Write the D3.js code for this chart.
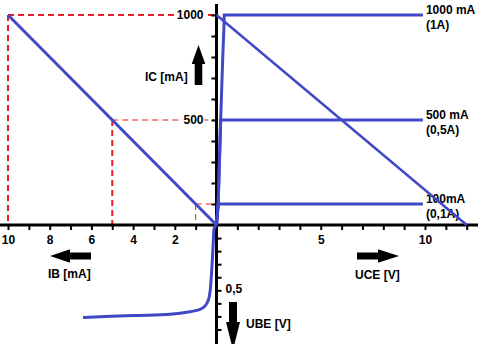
<!DOCTYPE html>
<html>
<head>
<meta charset="utf-8">
<script src="https://cdn.jsdelivr.net/npm/d3@7"></script>
<style>
  body { margin: 0; background: #fff; }
  text { font-family: "Liberation Sans", Arial, sans-serif; font-weight: bold; fill: #000; }
</style>
</head>
<body>
<svg id="chart" width="478" height="344"></svg>
<script>
// Data
var ibTicks = [1, 2, 3, 4, 5, 6, 7, 8, 9, 10];
var ibTickLabels = [2, 4, 6, 8, 10];
var uceTicks = [1, 2, 3, 4, 5, 6, 7, 8, 9, 10, 11, 12];
var uceTickLabels = [5, 10];
var icTicks = [100, 200, 300, 400, 500, 600, 700, 800, 900, 1000];
var icTickLabels = [500, 1000];
var ubeTicks = [0.1, 0.2, 0.3, 0.4, 0.5, 0.6, 0.7, 0.8];
var ubeTickLabels = [0.5];

// current gain line IC = f(IB)
var gainLine = [[10, 1000], [0, 0]];
// guide points (IB, IC)
var guideIB = [10, 5, 1];
var guideIC = [1000, 500, 100];
// output curves (UCE, IC)
var curveLabels = ["1000 mA", "500 mA", "100mA"];
var curveSubLabels = ["(1A)", "(0,5A)", "(0,1A)"];
var curve1000 = [[0, 0], [0.08, 100], [0.2, 500], [0.3, 800], [0.36, 950], [0.37, 1000], [9.9, 1000]];
var curve500 = [[0, 0], [0.08, 100], [0.2, 500], [9.9, 500]];
var curve100 = [[0, 0], [0.08, 100], [9.9, 100]];
// load line
var loadLine = [[0, 1000], [12, 0]];
// input curve (IB, UBE)
var inputCurve = [[6.4, 0.708], [4.0, 0.693], [2.23, 0.684], [1.27, 0.664], [0.79, 0.646], [0.55, 0.62],
                  [0.39, 0.574], [0.31, 0.511], [0.26, 0.421], [0.2, 0.268], [0.15, 0.115], [0.105, 0.023], [0, 0]];

var svg = d3.select("#chart");
var blue = "#4048c8", red = "#ee1c24";

// Scales, one per half-axis
var xIB = d3.scaleLinear().domain([0, 10]).range([216.5, 8]);
var xUCE = d3.scaleLinear().domain([0, 10]).range([216.5, 425]);
var yIC = d3.scaleLinear().domain([0, 1000]).range([225, 15]);
var yUBE = d3.scaleLinear().domain([0, 0.5]).range([225, 290.3]);

svg.append("rect").attr("width", 478).attr("height", 344).attr("fill", "#fff");

// red dashed guides
guideIB.forEach(function (ib, i) {
    var w = i < 2 ? 2 : 1;
    svg.append("line")
        .attr("x1", xIB(ib)).attr("x2", xIB(ib))
        .attr("y1", yIC(guideIC[i])).attr("y2", yIC(0))
        .attr("stroke", red).attr("stroke-width", w).attr("stroke-dasharray", "6,4");
    svg.append("line")
        .attr("x1", xIB(ib)).attr("x2", xIB(0))
        .attr("y1", yIC(guideIC[i])).attr("y2", yIC(guideIC[i]))
        .attr("stroke", red).attr("stroke-width", i == 0 ? 2 : 1.2).attr("stroke-dasharray", "6,4");
});

// axis lines
svg.append("line").attr("x1", 0).attr("x2", 478).attr("y1", 225).attr("y2", 225)
    .attr("stroke", "#000").attr("stroke-width", 3);
svg.append("line").attr("x1", 216.5).attr("x2", 216.5).attr("y1", 4).attr("y2", 344)
    .attr("stroke", "#000").attr("stroke-width", 3);

function styleAxis(g) {
    g.select(".domain").remove();
    g.selectAll(".tick line").attr("stroke", "#000").attr("stroke-width", 2);
    g.selectAll(".tick text").style("font-size", "12px").style("font-family", "Liberation Sans, Arial, sans-serif")
        .style("font-weight", "bold").attr("fill", "#000");
}

svg.append("g").attr("transform", "translate(0,225)")
    .call(d3.axisBottom(xIB).tickValues(ibTicks).tickSize(5).tickPadding(5)
        .tickFormat(function (d) { return ibTickLabels.indexOf(d) >= 0 ? d : ""; }))
    .call(styleAxis);

svg.append("g").attr("transform", "translate(0,225)")
    .call(d3.axisBottom(xUCE.copy().domain([0, 10])).tickValues(uceTicks).tickSize(5).tickPadding(5)
        .tickFormat(function (d) { return uceTickLabels.indexOf(d) >= 0 ? d : ""; }))
    .call(styleAxis);

svg.append("g").attr("transform", "translate(216.5,0)")
    .call(d3.axisLeft(yIC).tickValues(icTicks).tickSize(5).tickPadding(8)
        .tickFormat(function (d) { return icTickLabels.indexOf(d) >= 0 ? d : ""; }))
    .call(styleAxis)
    .selectAll(".tick text")
    .attr("stroke", "#fff").attr("stroke-width", 3).attr("paint-order", "stroke");

var ubeAxis = svg.append("g").attr("transform", "translate(216.5,0)")
    .call(d3.axisRight(yUBE).tickValues(ubeTicks).tickSize(5).tickPadding(4)
        .tickFormat(function (d) { return ubeTickLabels.indexOf(d) >= 0 ? String(d).replace(".", ",") : ""; }))
    .call(styleAxis);
ubeAxis.selectAll(".tick text").attr("dy", "0.2em");

// curves
var lineIBIC = d3.line().x(function (d) { return xIB(d[0]); }).y(function (d) { return yIC(d[1]); });
var lineUCEIC = d3.line().x(function (d) { return xUCE(d[0]); }).y(function (d) { return yIC(d[1]); });
var lineIBUBE = d3.line().x(function (d) { return xIB(d[0]); }).y(function (d) { return yUBE(d[1]); })
    .curve(d3.curveCatmullRom);

svg.append("path").attr("d", lineIBIC(gainLine))
    .attr("fill", "none").attr("stroke", blue).attr("stroke-width", 3);

[curve1000, curve500, curve100].forEach(function (c, i) {
    svg.append("path").attr("d", lineUCEIC(c))
        .attr("fill", "none").attr("stroke", blue).attr("stroke-width", 3);
    var last = c[c.length - 1];
    svg.append("text").attr("x", xUCE(last[0]) + 3).attr("y", yIC(last[1]) - 1)
        .style("font-size", "12px").text(curveLabels[i]);
    svg.append("text").attr("x", xUCE(last[0]) + 3).attr("y", yIC(last[1]) + 14)
        .style("font-size", "12px").text(curveSubLabels[i]);
});

svg.append("path").attr("d", lineUCEIC(loadLine))
    .attr("fill", "none").attr("stroke", blue).attr("stroke-width", 2.5);

svg.append("path").attr("d", lineIBUBE(inputCurve))
    .attr("fill", "none").attr("stroke", blue).attr("stroke-width", 3);

// axis titles and arrows
function arrow(tipX, tipY, dir, len, headLen, headW, shaftW) {
    // dir: direction unit vector
    var dx = dir[0], dy = dir[1], px = -dy, py = dx;
    var bx = tipX - dx * headLen, by = tipY - dy * headLen;
    var ex = tipX - dx * len, ey = tipY - dy * len;
    var pts = [
        [tipX, tipY],
        [bx + px * headW, by + py * headW],
        [bx + px * shaftW, by + py * shaftW],
        [ex + px * shaftW, ey + py * shaftW],
        [ex - px * shaftW, ey - py * shaftW],
        [bx - px * shaftW, by - py * shaftW],
        [bx - px * headW, by - py * headW]
    ];
    svg.append("path").attr("d", "M" + pts.join("L") + "Z").attr("fill", "#000");
}
arrow(198.5, 45, [0, -1], 40, 19, 6.8, 3.8);
arrow(50, 256, [-1, 0], 41, 20, 6.8, 3.4);
arrow(399, 256, [1, 0], 42, 21, 6.8, 3.4);
arrow(233, 350, [0, 1], 48, 28, 7, 4);

svg.append("text").attr("x", 145).attr("y", 81).style("font-size", "12px").text("IC [mA]");
svg.append("text").attr("x", 48).attr("y", 278).style("font-size", "12px").text("IB [mA]");
svg.append("text").attr("x", 355).attr("y", 279).style("font-size", "12px").text("UCE [V]");
svg.append("text").attr("x", 246).attr("y", 328).style("font-size", "12px").text("UBE [V]");
</script>
</body>
</html>
